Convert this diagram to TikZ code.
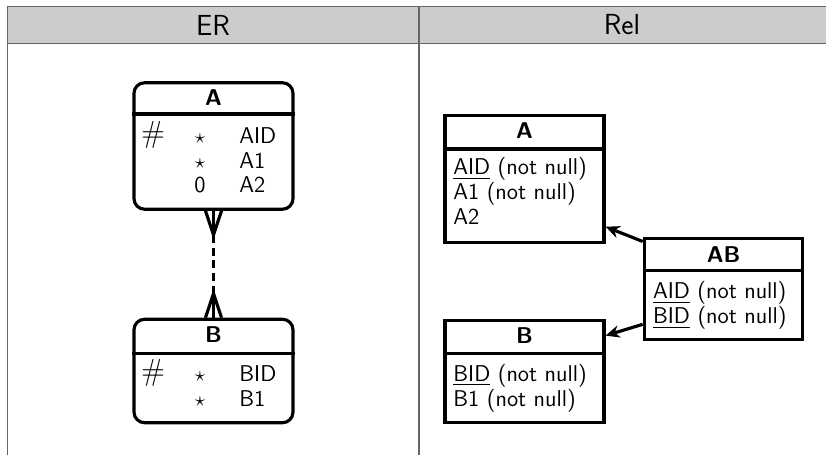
\documentclass[tikz,border=0pt]{standalone}
\usetikzlibrary{arrows.meta}
\usepackage{amssymb}
\usepackage{amsmath}

\tikzset{
  grid line/.style={draw=black!60, line width=1.1pt},
  header/.style={font=\sffamily\fontsize{16.5}{19}\selectfont},
  erbox/.style={draw, line width=1.8pt, rounded corners=6pt, inner sep=0pt},
  relbox/.style={draw, line width=1.8pt, inner sep=0pt},
  sep line/.style={line width=1.8pt},
  ttl/.style={font=\sffamily\bfseries\fontsize{13}{15}\selectfont, anchor=base, inner sep=0pt},
  txt/.style={font=\sffamily\fontsize{13}{15}\selectfont, anchor=base west, inner sep=0pt},
  sym/.style={font=\fontsize{13}{15}\selectfont, anchor=base, inner sep=0pt},
  link/.style={line width=1.8pt},
  fk/.style={line width=1.8pt, -{Stealth[length=8pt,width=7pt]}},
}

\begin{document}
\begin{tikzpicture}[x=0.02cm, y=-0.02cm]
    \useasboundingbox (0,0) rectangle (826,455);
    % table
    \fill[gray!40] (7.5,6.5) rectangle (826,43.5);
    \draw[grid line] (7.5,6.5) -- (826,6.5);
    \draw[grid line] (7.5,43.5) -- (826,43.5);
    \draw[grid line] (7.5,6.5) -- (7.5,455);
    \draw[grid line] (418.7,6.5) -- (418.7,455);
    \node[header] (hER) at (213,25) {ER};
    \node[header] (hRel) at (622,25) {Rel};

    % ER side
    \node[erbox, minimum width=3.18cm, minimum height=2.53cm] (erA) at (213.5,146) {};
    \coordinate (sA) at (0,114);
    \draw[sep line] (erA.west |- sA) -- (erA.east |- sA);
    \node[ttl] (erAt) at (213.5,106) {A};
    \node[sym, font=\fontsize{17}{18}\selectfont] (erAh) at (153,143) {$\#$};
    \node[sym] (erAs1) at (200,144) {$\star$};
    \node[sym] (erAs2) at (200,169) {$\star$};
    \node[sym, font=\sffamily\fontsize{13}{15}\selectfont] (erAs3) at (200,193) {0};
    \node[txt] (erA1) at (239,144) {AID};
    \node[txt] (erA2) at (239,169) {A1};
    \node[txt] (erA3) at (239,193) {A2};

    \node[erbox, minimum width=3.18cm, minimum height=2.07cm] (erB) at (213.5,371) {};
    \coordinate (sB) at (0,353.3);
    \draw[sep line] (erB.west |- sB) -- (erB.east |- sB);
    \node[ttl] (erBt) at (213.5,343) {B};
    \node[sym, font=\fontsize{17}{18}\selectfont] (erBh) at (153,381) {$\#$};
    \node[sym] (erBs1) at (200,382) {$\star$};
    \node[sym] (erBs2) at (200,407) {$\star$};
    \node[txt] (erB1) at (239,382) {BID};
    \node[txt] (erB2) at (239,407) {B1};

    % crow's feet
    \draw[link] (erA.south) -- ++(0,24) coordinate (a1);
    \draw[link] (erA.south) ++(-8,0) -- ++(8,24) -- ++(8,-24);
    \draw[link] (erB.north) -- ++(0,-24) coordinate (b1);
    \draw[link] (erB.north) ++(-8,0) -- ++(8,-24) -- ++(8,24);
    \draw[link, dash pattern=on 4.5pt off 2.8pt] (a1) -- (b1);

    % Rel side
    \node[relbox, minimum width=3.18cm, minimum height=2.55cm] (relA) at (524.5,179) {};
    \coordinate (sRA) at (0,149);
    \draw[sep line] (relA.west |- sRA) -- (relA.east |- sRA);
    \node[ttl] (relAt) at (524.5,139) {A};
    \node[txt] (relA1) at (453,175) {\underline{AID} (not null)};
    \node[txt] (relA2) at (453,200) {A1 (not null)};
    \node[txt] (relA3) at (453,225) {A2};

    \node[relbox, minimum width=3.17cm, minimum height=2.02cm] (relAB) at (723.5,288.8) {};
    \coordinate (sRAB) at (0,270.7);
    \draw[sep line] (relAB.west |- sRAB) -- (relAB.east |- sRAB);
    \node[ttl] (relABt) at (723.5,262.7) {AB};
    \node[txt] (relAB1) at (652.7,299) {\underline{AID} (not null)};
    \node[txt] (relAB2) at (652.7,324) {\underline{BID} (not null)};

    \node[relbox, minimum width=3.18cm, minimum height=2.04cm] (relB) at (524.5,371.7) {};
    \coordinate (sRB) at (0,353.3);
    \draw[sep line] (relB.west |- sRB) -- (relB.east |- sRB);
    \node[ttl] (relBt) at (524.5,344) {B};
    \node[txt] (relB1) at (453,381.7) {\underline{BID} (not null)};
    \node[txt] (relB2) at (453,406.7) {B1 (not null)};

    \draw[fk] ([yshift=-2.7pt]relAB.north west) -- ([yshift=10pt]relA.south east);
    \draw[fk] ([yshift=9.4pt]relAB.south west) -- ([yshift=-9.4pt]relB.north east);
\end{tikzpicture}
\end{document}
